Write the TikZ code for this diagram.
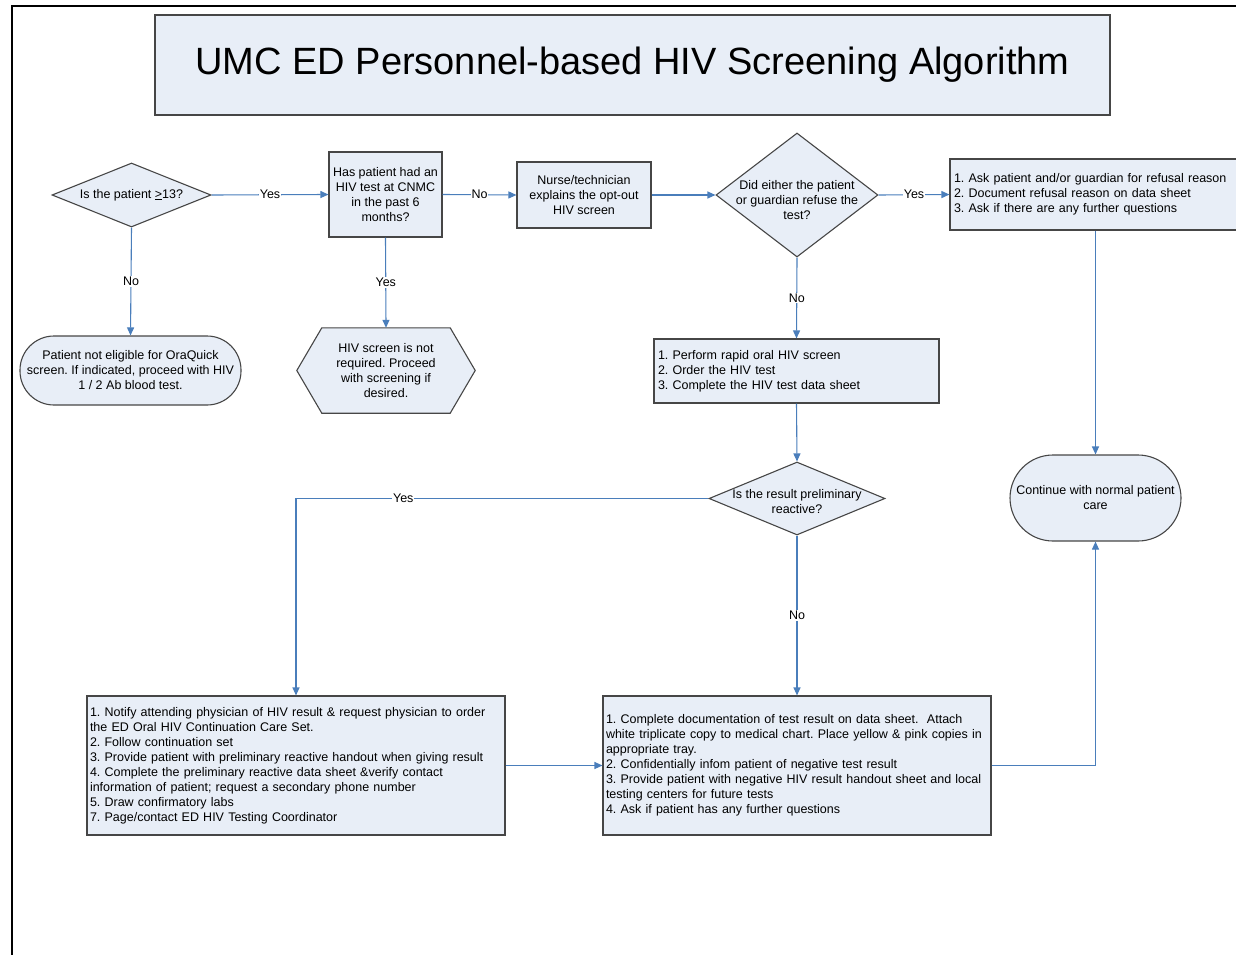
\documentclass[tikz,border=0pt]{standalone}
\usepackage{fontspec}
\setmainfont{Liberation Sans}
\usetikzlibrary{shapes.geometric,arrows.meta,backgrounds}
\definecolor{boxfill}{RGB}{232,238,247}
\definecolor{boxline}{RGB}{70,70,70}
\definecolor{arrowblue}{RGB}{74,126,187}
\tikzset{
  txt/.style={font=\fontsize{12.5}{15}\selectfont\frenchspacing},
  boxstyle/.style={txt, draw=boxline, fill=boxfill, line width=1.1pt, rectangle, inner sep=3pt},
  cbox/.style={boxstyle, align=center},
  lbox/.style={boxstyle, align=left},
  dia/.style={txt, diamond, draw=boxline, fill=boxfill, line width=1.1pt, inner sep=0pt},
  term/.style={boxstyle, align=center},
  conn/.style={draw=arrowblue, line width=1.1pt, -{Triangle[length=8pt,width=7pt]}},
  lab/.style={txt, fill=white, inner sep=1pt, text=black},
}
\begin{document}
\begin{tikzpicture}[x=1pt,y=-1pt]
\useasboundingbox (0,0) rectangle (1236,955);
\clip (0,0) rectangle (1236,955);
% frame
\draw[line width=2.2pt, black] (12,955) -- (12,6) -- (1240,6);
% title
\node[cbox, minimum width=955, minimum height=100, font=\fontsize{38}{44}\selectfont] (title) at (632.5,65) {UMC ED Personnel-based HIV Screening Algorithm};
% row 1
\node[dia, minimum width=159, minimum height=64, label={[txt]center:Is the patient \underline{>}13?}] (d1) at (131.5,195) {};
\node[cbox, minimum width=113, minimum height=85, inner xsep=1pt] (b1) at (385.5,194.5) {Has patient had an\\HIV test at CNMC\\in the past 6\\months?};
\node[cbox, minimum width=134, minimum height=66] (b2) at (584,195) {Nurse/technician\\explains the opt-out\\HIV screen};
\node[dia, minimum width=162, minimum height=124, label={[txt,align=center,yshift=-5pt]center:Did either the patient\\or guardian refuse the\\test?}] (d2) at (797,195) {};
\node[lbox, minimum width=290, minimum height=71, text width=282, inner xsep=4pt] (b3) at (1095,194.5) {1. Ask patient and/or guardian for refusal reason\\2. Document refusal reason on data sheet\\3. Ask if there are any further questions};
% row 2
\node[term, rounded corners=34pt, minimum width=221, minimum height=69, inner xsep=1pt] (t1) at (130.5,370.5) {Patient not eligible for OraQuick\\screen. If indicated, proceed with HIV\\1 / 2 Ab blood test.};
\node[txt, align=center, minimum width=178, minimum height=85, inner sep=0pt] (h1) at (386,370.5) {HIV screen is not\\required. Proceed\\with screening if\\desired.};
\begin{scope}[on background layer]
\path[draw=boxline, fill=boxfill, line width=1.1pt, line join=miter] (h1.west) -- ([xshift=25]h1.north west) -- ([xshift=-25]h1.north east) -- (h1.east) -- ([xshift=-25]h1.south east) -- ([xshift=25]h1.south west) -- cycle;
\end{scope}
\node[lbox, minimum width=285, minimum height=64, text width=277, inner xsep=4pt] (b4) at (796.5,371) {1. Perform rapid oral HIV screen\\2. Order the HIV test\\3. Complete the HIV test data sheet};
% row 3
\node[dia, minimum width=176, minimum height=73, label={[txt,align=center,yshift=-3pt]center:Is the result preliminary\\reactive?}] (d3) at (797,498.5) {};
\node[term, rounded corners=43pt, minimum width=171, minimum height=86, inner xsep=1pt] (t2) at (1095.5,498) {Continue with normal patient\\care};
% row 4
\node[lbox, minimum width=418, minimum height=139, text width=412] (b5) at (296,765.5) {1. Notify attending physician of HIV result \& request physician to order\\the ED Oral HIV Continuation Care Set.\\2. Follow continuation set\\3. Provide patient with preliminary reactive handout when giving result\\4. Complete the preliminary reactive data sheet \&verify contact\\information of patient; request a secondary phone number\\5. Draw confirmatory labs\\7. Page/contact ED HIV Testing Coordinator};
\node[lbox, minimum width=388, minimum height=139, text width=382] (b6) at (797,765.5) {1. Complete documentation of test result on data sheet.\ \ Attach\\white triplicate copy to medical chart. Place yellow \& pink copies in\\appropriate tray.\\2. Confidentially infom patient of negative test result\\3. Provide patient with negative HIV result handout sheet and local\\testing centers for future tests\\4. Ask if patient has any further questions};
% connectors
\draw[conn] (d1.east) -- node[lab]{Yes} (b1.west);
\draw[conn] (b1.east) -- node[lab]{No} (b2.west);
\draw[conn] (b2.east) -- (d2.west);
\draw[conn] (d2.east) -- node[lab]{Yes} (b3.west);
\draw[conn] (d1.south) -- node[lab]{No} (t1.north);
\draw[conn] (b1.south) -- node[lab]{Yes} (h1.north);
\draw[conn] (d2.south) -- node[lab]{No} (b4.north);
\draw[conn] (b3.south -| t2.north) -- (t2.north);
\draw[conn] (b4.south) -- (d3.north);
\draw[conn] (d3.west) -| node[lab, pos=0.37]{Yes} (b5.north);
\draw[conn] (d3.south) -- node[lab]{No} (b6.north);
\draw[conn] (b5.east) -- (b6.west);
\draw[conn] (b6.east) -| (t2.south);
\end{tikzpicture}
\end{document}
